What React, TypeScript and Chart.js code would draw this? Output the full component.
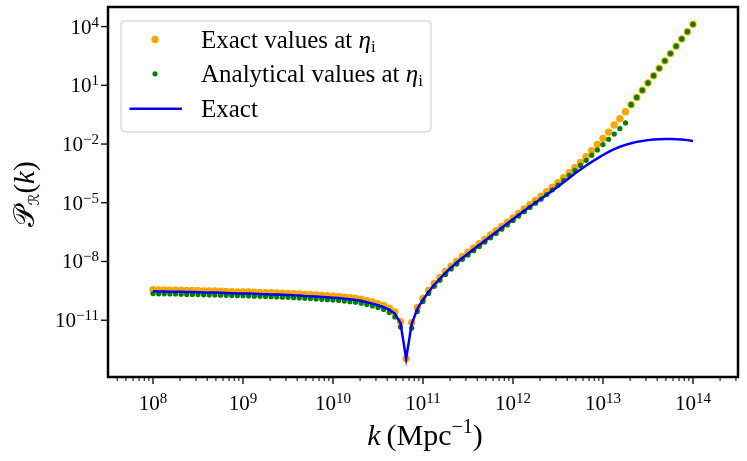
import { useEffect, useRef } from "react";
import { Chart, registerables } from "chart.js";

Chart.register(...registerables);

// log10 of k (Mpc^-1): sampling grid of the dots
const kLog10 = [
  8.0, 8.0625, 8.125, 8.1875, 8.25, 8.3125, 8.375, 8.4375,
  8.5, 8.5625, 8.625, 8.6875, 8.75, 8.8125, 8.875, 8.9375,
  9.0, 9.0625, 9.125, 9.1875, 9.25, 9.3125, 9.375, 9.4375,
  9.5, 9.5625, 9.625, 9.6875, 9.75, 9.8125, 9.875, 9.9375,
  10.0, 10.0625, 10.125, 10.1875, 10.25, 10.3125, 10.375, 10.4375,
  10.5, 10.5625, 10.625, 10.6875, 10.75, 10.8125, 10.875, 10.9375,
  11.0, 11.0625, 11.125, 11.1875, 11.25, 11.3125, 11.375, 11.4375,
  11.5, 11.5625, 11.625, 11.6875, 11.75, 11.8125, 11.875, 11.9375,
  12.0, 12.0625, 12.125, 12.1875, 12.25, 12.3125, 12.375, 12.4375,
  12.5, 12.5625, 12.625, 12.6875, 12.75, 12.8125, 12.875, 12.9375,
  13.0, 13.0625, 13.125, 13.1875, 13.25, 13.3125, 13.375, 13.4375,
  13.5, 13.5625, 13.625, 13.6875, 13.75, 13.8125, 13.875, 13.9375,
  14.0,
];

// log10 of P_R(k): exact values at eta_i (orange dots)
const exactAtEtaLog10 = [
  -9.44, -9.45, -9.45, -9.46, -9.46, -9.47, -9.48, -9.48,
  -9.49, -9.5, -9.51, -9.51, -9.52, -9.53, -9.54, -9.55,
  -9.55, -9.56, -9.57, -9.58, -9.59, -9.6, -9.61, -9.62,
  -9.63, -9.65, -9.66, -9.68, -9.69, -9.71, -9.73, -9.75,
  -9.77, -9.79, -9.82, -9.85, -9.88, -9.93, -10.0, -10.07,
  -10.15, -10.25, -10.38, -10.58, -11.08, -12.96, -11.12, -10.35,
  -9.88, -9.48, -9.12, -8.81, -8.51, -8.24, -7.99, -7.75,
  -7.53, -7.31, -7.09, -6.87, -6.65, -6.43, -6.21, -5.99,
  -5.77, -5.54, -5.32, -5.1, -4.88, -4.66, -4.44, -4.21,
  -3.98, -3.72, -3.47, -3.21, -2.94, -2.65, -2.34, -2.02,
  -1.71, -1.39, -1.03, -0.71, -0.35, 0.01, 0.38, 0.75,
  1.12, 1.49, 1.87, 2.25, 2.62, 3.0, 3.37, 3.74,
  4.12,
];

// log10 of P_R(k): analytical values at eta_i (green dots)
const analyticalAtEtaLog10 = [
  -9.64, -9.65, -9.65, -9.66, -9.66, -9.67, -9.68, -9.68,
  -9.69, -9.7, -9.71, -9.71, -9.72, -9.73, -9.74, -9.75,
  -9.75, -9.76, -9.77, -9.78, -9.79, -9.8, -9.81, -9.82,
  -9.83, -9.85, -9.86, -9.88, -9.89, -9.91, -9.93, -9.95,
  -9.97, -9.99, -10.02, -10.05, -10.08, -10.13, -10.2, -10.27,
  -10.35, -10.45, -10.6, -10.83, -11.35, -15.0, -11.4, -10.55,
  -10.04, -9.63, -9.27, -8.96, -8.66, -8.38, -8.13, -7.89,
  -7.67, -7.45, -7.23, -7.01, -6.79, -6.57, -6.35, -6.13,
  -5.91, -5.68, -5.46, -5.24, -5.02, -4.81, -4.58, -4.34,
  -4.1, -3.85, -3.6, -3.35, -3.09, -2.83, -2.57, -2.3,
  -2.03, -1.76, -1.49, -1.21, -0.92, 0.01, 0.38, 0.75,
  1.12, 1.49, 1.87, 2.25, 2.62, 3.0, 3.37, 3.74,
  4.12,
];

// log10 of P_R(k): exact curve (blue line)
const exactCurveLog10 = [
  -9.52, -9.53, -9.53, -9.54, -9.54, -9.55, -9.56, -9.56,
  -9.57, -9.58, -9.59, -9.59, -9.6, -9.61, -9.62, -9.63,
  -9.63, -9.64, -9.65, -9.66, -9.67, -9.68, -9.69, -9.7,
  -9.71, -9.73, -9.74, -9.76, -9.77, -9.79, -9.81, -9.83,
  -9.85, -9.87, -9.9, -9.93, -9.96, -10.01, -10.08, -10.15,
  -10.23, -10.33, -10.46, -10.66, -11.15, -12.96, -11.18, -10.42,
  -9.95, -9.55, -9.19, -8.88, -8.58, -8.31, -8.05, -7.82,
  -7.6, -7.38, -7.16, -6.94, -6.72, -6.5, -6.28, -6.06,
  -5.84, -5.62, -5.41, -5.2, -5.0, -4.8, -4.59, -4.38,
  -4.17, -3.95, -3.73, -3.51, -3.3, -3.1, -2.91, -2.73,
  -2.56, -2.4, -2.26, -2.14, -2.04, -1.96, -1.89, -1.84,
  -1.8, -1.77, -1.75, -1.74, -1.74, -1.75, -1.77, -1.8,
  -1.85,
];

const seriesLabels = ["Exact values at η_i", "Analytical values at η_i", "Exact"];
const seriesColors = ["#ffa500", "#008000", "#0000ff"];

const xMajorTickExponents = [8, 9, 10, 11, 12, 13, 14];
const xMinorTickDecades = [7, 8, 9, 10, 11, 12, 13, 14];
const xMinorTickMultipliers = [2, 3, 4, 5, 6, 7, 8, 9];
const yMajorTickExponents = [-11, -8, -5, -2, 1, 4];
const xLimitsLog10 = [7.5, 14.5];
const yLimitsLog10 = [-13.9, 5.0];

const SERIF = "'Liberation Serif', 'Times New Roman', serif";

type Run = { text: string; font: string; dy?: number };

function drawRuns(ctx: CanvasRenderingContext2D, runs: Run[], x: number, y: number, align: "left" | "center" | "right") {
  let total = 0;
  for (const r of runs) {
    ctx.font = r.font;
    total += ctx.measureText(r.text).width;
  }
  let cx = align === "left" ? x : align === "center" ? x - total / 2 : x - total;
  ctx.textAlign = "left";
  ctx.textBaseline = "alphabetic";
  for (const r of runs) {
    ctx.font = r.font;
    ctx.fillText(r.text, cx, y + (r.dy || 0));
    cx += ctx.measureText(r.text).width;
  }
}

function powerRuns(exp: number): Run[] {
  const e = exp < 0 ? "\u2212" + Math.abs(exp) : String(exp);
  return [
    { text: "10", font: `21px ${SERIF}` },
    { text: e, font: `15px ${SERIF}`, dy: -7 },
  ];
}

function labelRuns(label: string): Run[] {
  const font = `25px ${SERIF}`;
  const idx = label.indexOf("η_");
  if (idx < 0) return [{ text: label, font }];
  return [
    { text: label.slice(0, idx), font },
    { text: "η", font: `italic 25px ${SERIF}` },
    { text: label.slice(idx + 2), font: `17px ${SERIF}`, dy: 4 },
  ];
}

const decorPlugin = {
  id: "decor",
  afterDatasetsDraw(chart: any) {
    const { ctx, chartArea: a, scales } = chart;
    const xs = scales.x;
    const ys = scales.y;
    ctx.save();
    ctx.fillStyle = "#000";
    ctx.strokeStyle = "#000";

    // x ticks
    for (const t of xs.ticks) {
      const px = xs.getPixelForValue(t.value);
      if (px < a.left - 0.5 || px > a.right + 0.5) continue;
      ctx.lineWidth = t.major ? 1.3 : 1;
      ctx.beginPath();
      ctx.moveTo(px, a.bottom);
      ctx.lineTo(px, a.bottom + (t.major ? 7 : 4));
      ctx.stroke();
      if (t.major) drawRuns(ctx, powerRuns(t.exp), px, a.bottom + 33, "center");
    }
    // y ticks
    for (const t of ys.ticks) {
      const py = ys.getPixelForValue(t.value);
      ctx.lineWidth = 1.3;
      ctx.beginPath();
      ctx.moveTo(a.left, py);
      ctx.lineTo(a.left - 7, py);
      ctx.stroke();
      drawRuns(ctx, powerRuns(t.exp), a.left - 9, py + 7, "right");
    }

    // frame
    ctx.lineWidth = 2.5;
    ctx.strokeRect(a.left, a.top, a.right - a.left, a.bottom - a.top);

    // axis titles
    drawRuns(
      ctx,
      [
        { text: "k", font: `italic 30px ${SERIF}` },
        { text: "\u2009(Mpc", font: `30px ${SERIF}` },
        { text: "\u22121", font: `20px ${SERIF}`, dy: -12 },
        { text: ")", font: `30px ${SERIF}` },
      ],
      (a.left + a.right) / 2 + 2,
      445,
      "center"
    );
    ctx.save();
    ctx.translate(34, (a.top + a.bottom) / 2 + 2);
    ctx.rotate(-Math.PI / 2);
    drawRuns(
      ctx,
      [
        { text: "𝒫", font: `29px 'DejaVu Sans', 'DejaVu Serif', serif` },
        { text: "ℛ", font: `15px 'DejaVu Sans', 'DejaVu Serif', serif`, dy: 5 },
        { text: "(", font: `29px ${SERIF}` },
        { text: "k", font: `italic 29px ${SERIF}` },
        { text: ")", font: `29px ${SERIF}` },
      ],
      0,
      0,
      "center"
    );
    ctx.restore();

    // legend
    const lx = a.left + 13;
    const ly = a.top + 14;
    const lw = 310;
    const lh = 111;
    ctx.beginPath();
    ctx.roundRect(lx, ly, lw, lh, 4);
    ctx.fillStyle = "rgba(255,255,255,0.8)";
    ctx.fill();
    ctx.strokeStyle = "#cccccc";
    ctx.lineWidth = 1;
    ctx.stroke();
    const rowYs = [ly + 18.5, ly + 52.8, ly + 87.8];
    chart.data.datasets.forEach((ds: any, i: number) => {
      const cy = rowYs[i];
      const mx = lx + 34;
      if (ds.showLine) {
        ctx.strokeStyle = ds.borderColor;
        ctx.lineWidth = ds.borderWidth;
        ctx.beginPath();
        ctx.moveTo(lx + 8.5, cy);
        ctx.lineTo(lx + 61, cy);
        ctx.stroke();
      } else {
        ctx.fillStyle = ds.backgroundColor;
        ctx.beginPath();
        ctx.arc(mx, cy, ds.pointRadius, 0, Math.PI * 2);
        ctx.fill();
      }
      ctx.fillStyle = "#000";
      drawRuns(ctx, labelRuns(ds.label), lx + 80, cy + 8.5, "left");
    });
    ctx.restore();
  },
};

function toPoints(ys: number[]) {
  return kLog10.map((kx, i) => ({ x: Math.pow(10, kx), y: Math.pow(10, ys[i]) }));
}

export default function App() {
  const ref = useRef<HTMLCanvasElement>(null);
  useEffect(() => {
    document.body.style.margin = "0";
    document.body.style.overflow = "hidden";
    const chart = new Chart(ref.current as HTMLCanvasElement, {
      type: "scatter",
      data: {
        datasets: [
          {
            label: seriesLabels[0],
            data: toPoints(exactAtEtaLog10),
            backgroundColor: seriesColors[0],
            borderColor: seriesColors[0],
            pointRadius: 3.7,
            pointBorderWidth: 0,
            showLine: false,
            order: 3,
            clip: 0,
          },
          {
            label: seriesLabels[1],
            data: toPoints(analyticalAtEtaLog10),
            backgroundColor: seriesColors[1],
            borderColor: seriesColors[1],
            pointRadius: 2.6,
            pointBorderWidth: 0,
            showLine: false,
            order: 2,
            clip: 0,
          },
          {
            label: seriesLabels[2],
            data: toPoints(exactCurveLog10),
            backgroundColor: seriesColors[2],
            borderColor: seriesColors[2],
            borderWidth: 2.5,
            pointRadius: 0,
            showLine: true,
            tension: 0,
            order: 1,
            clip: 0,
          },
        ],
      } as any,
      options: {
        responsive: false,
        animation: false,
        events: [],
        layout: { padding: { top: 7, right: 9, left: 0, bottom: 0 } },
        plugins: { legend: { display: false }, tooltip: { enabled: false } },
        scales: {
          x: {
            type: "logarithmic",
            bounds: "data",
            min: Math.pow(10, xLimitsLog10[0]),
            max: Math.pow(10, xLimitsLog10[1]),
            grid: { display: false },
            border: { display: false },
            ticks: { display: false },
            afterBuildTicks: (scale: any) => {
              const ticks: any[] = [];
              xMinorTickDecades.forEach((d) => {
                if (xMajorTickExponents.includes(d)) ticks.push({ value: Math.pow(10, d), major: true, exp: d });
                xMinorTickMultipliers.forEach((m) => ticks.push({ value: m * Math.pow(10, d), major: false }));
              });
              scale.ticks = ticks;
            },
            afterFit: (scale: any) => {
              scale.height = 84;
            },
          },
          y: {
            type: "logarithmic",
            bounds: "data",
            min: Math.pow(10, yLimitsLog10[0]),
            max: Math.pow(10, yLimitsLog10[1]),
            grid: { display: false },
            border: { display: false },
            ticks: { display: false },
            afterBuildTicks: (scale: any) => {
              scale.ticks = yMajorTickExponents.map((e) => ({ value: Math.pow(10, e), major: true, exp: e }));
            },
            afterFit: (scale: any) => {
              scale.width = 108;
            },
          },
        },
      } as any,
      plugins: [decorPlugin],
    });
    return () => chart.destroy();
  }, []);
  return (
    <div style={{ width: 747, height: 461 }}>
      <canvas ref={ref} width={747} height={461} style={{ display: "block", width: 747, height: 461 }} />
    </div>
  );
}
